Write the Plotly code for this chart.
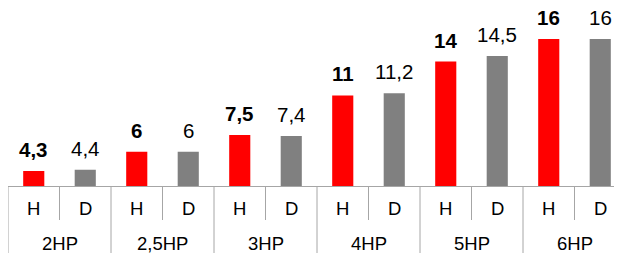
import plotly.graph_objects as go

groups = ["2HP", "2,5HP", "3HP", "4HP", "5HP", "6HP"]
kinds = ["H", "D"]
h_values = [4.3, 6, 7.5, 11, 14, 16]
d_values = [4.4, 6, 7.4, 11.2, 14.5, 16]

FONT = "Liberation Sans, Arial"
LINE = "#a6a6a6"
OFF = 8.0            # page body margin
BASE = 186.0 - OFF   # baseline y inside the figure
PLOT_H = BASE


def fmt(v):
    return f"{v:g}".replace(".", ",")


def py(page_y):
    """paper y for a given page pixel y"""
    return -((page_y - OFF) - BASE) / PLOT_H


xs, vals, colors, labels, kind_labels = [], [], [], [], []
for gi, (h, d) in enumerate(zip(h_values, d_values)):
    for k, (kind, v) in enumerate(zip(kinds, (h, d))):
        xs.append(2 * gi + k)
        vals.append(v)
        colors.append("#ff0000" if kind == "H" else "#808080")
        labels.append(f"<b>{fmt(v)}</b>" if kind == "H" else fmt(v))
        kind_labels.append(kind)

fig = go.Figure()
fig.add_trace(go.Bar(x=xs, y=vals, marker_color=colors, marker_line_width=0,
                     width=0.41, hoverinfo="skip"))

for x, v, t in zip(xs, vals, labels):
    fig.add_annotation(x=x, y=v, text=t, showarrow=False, yanchor="bottom",
                       yshift=9, borderpad=0,
                       font=dict(size=20.5, color="#000000", family=FONT))

for x, k in zip(xs, kind_labels):
    fig.add_annotation(x=x, y=py(208.5), yref="paper", text=k,
                       showarrow=False, yanchor="middle",
                       font=dict(size=18.5, color="#000000", family=FONT))

for gi, g in enumerate(groups):
    fig.add_annotation(x=2 * gi + 0.5, y=py(243), yref="paper",
                       text=g, showarrow=False, yanchor="middle",
                       font=dict(size=18.5, color="#000000", family=FONT))
    fig.add_shape(type="line", xref="x", yref="paper", x0=2 * gi + 0.5,
                  x1=2 * gi + 0.5, y0=0, y1=py(220),
                  line=dict(color=LINE, width=1))
for gi in range(len(groups) + 1):
    fig.add_shape(type="line", xref="x", yref="paper", x0=2 * gi - 0.5,
                  x1=2 * gi - 0.5, y0=0, y1=py(260),
                  line=dict(color=LINE, width=1))

fig.update_layout(
    width=618, height=245, margin=dict(l=0, r=0, t=0, b=245 - BASE, autoexpand=False),
    plot_bgcolor="white", paper_bgcolor="white", showlegend=False,
    font=dict(family=FONT, size=18, color="#000000"),
)
fig.update_xaxes(range=[-0.5, 11.5], showline=True, linecolor=LINE, linewidth=1,
                 showgrid=False, zeroline=False, showticklabels=False, ticks="")
fig.update_yaxes(range=[2.97, 2.97 + BASE / 11.28], visible=False,
                 showgrid=False, zeroline=False)

fig.write_html("out.html")
